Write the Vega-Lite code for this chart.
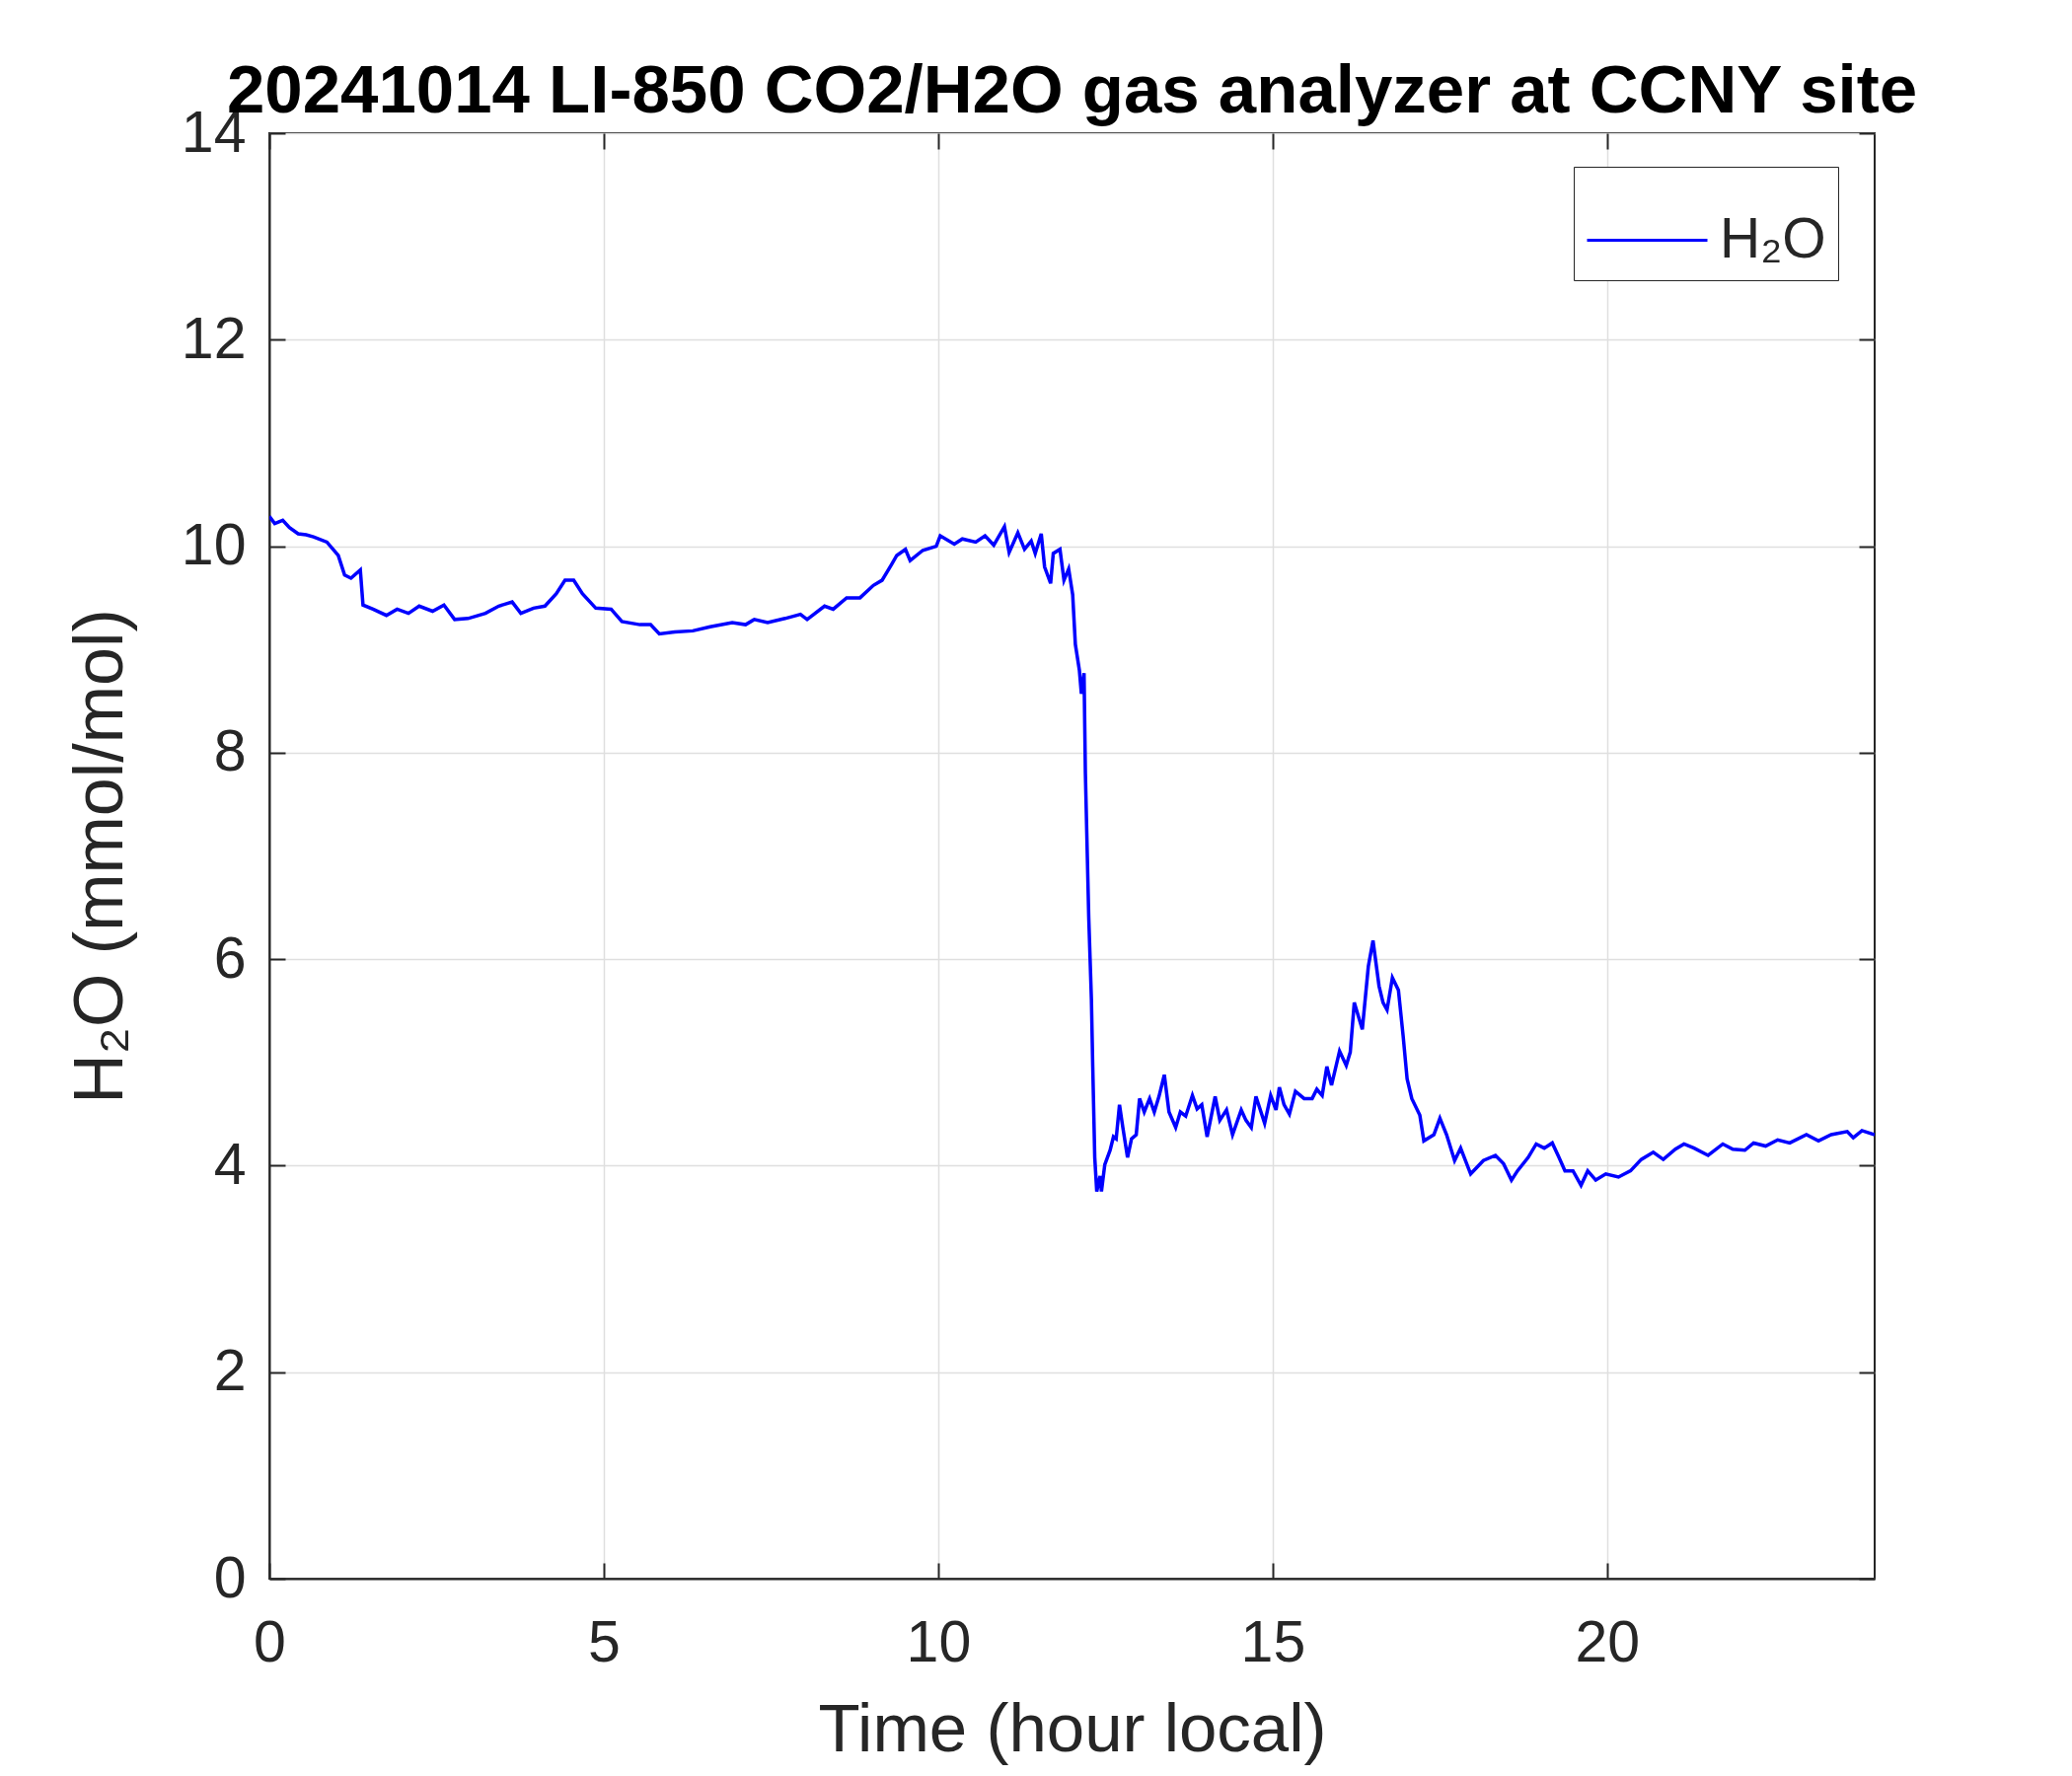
{
  "$schema": "https://vega.github.io/schema/vega-lite/v6.json",
  "width": 1627,
  "height": 1465,
  "autosize": {"type": "none"},
  "padding": {"left": 273, "top": 135, "right": 200, "bottom": 200},
  "background": "white",
  "config": {
    "font": "Liberation Sans",
    "view": {"stroke": "#262626", "strokeWidth": 2}
  },
  "title": {
    "text": "20241014 LI-850 CO2/H2O gas analyzer at CCNY site",
    "fontSize": 69,
    "fontWeight": "bold",
    "color": "black",
    "font": "Liberation Sans",
    "anchor": "middle",
    "frame": "group",
    "baseline": "alphabetic",
    "offset": 17,
    "dy": 94
  },
  "data": {
    "values": [
      {"hour": 0.00, "h2o": 10.29}, {"hour": 0.08, "h2o": 10.22}, {"hour": 0.20, "h2o": 10.25},
      {"hour": 0.30, "h2o": 10.18}, {"hour": 0.43, "h2o": 10.12}, {"hour": 0.55, "h2o": 10.11},
      {"hour": 0.66, "h2o": 10.09}, {"hour": 0.86, "h2o": 10.04}, {"hour": 1.03, "h2o": 9.91},
      {"hour": 1.125, "h2o": 9.72}, {"hour": 1.22, "h2o": 9.69}, {"hour": 1.36, "h2o": 9.77},
      {"hour": 1.40, "h2o": 9.43}, {"hour": 1.55, "h2o": 9.39}, {"hour": 1.75, "h2o": 9.33},
      {"hour": 1.91, "h2o": 9.39}, {"hour": 2.08, "h2o": 9.35}, {"hour": 2.24, "h2o": 9.42},
      {"hour": 2.44, "h2o": 9.37}, {"hour": 2.61, "h2o": 9.43}, {"hour": 2.77, "h2o": 9.29},
      {"hour": 2.97, "h2o": 9.30}, {"hour": 3.23, "h2o": 9.35}, {"hour": 3.43, "h2o": 9.42},
      {"hour": 3.63, "h2o": 9.46}, {"hour": 3.76, "h2o": 9.35}, {"hour": 3.95, "h2o": 9.40},
      {"hour": 4.12, "h2o": 9.42}, {"hour": 4.29, "h2o": 9.54}, {"hour": 4.42, "h2o": 9.67},
      {"hour": 4.55, "h2o": 9.67}, {"hour": 4.68, "h2o": 9.54}, {"hour": 4.88, "h2o": 9.40},
      {"hour": 5.11, "h2o": 9.39}, {"hour": 5.27, "h2o": 9.27}, {"hour": 5.54, "h2o": 9.24},
      {"hour": 5.70, "h2o": 9.24}, {"hour": 5.83, "h2o": 9.15}, {"hour": 6.06, "h2o": 9.17},
      {"hour": 6.33, "h2o": 9.18}, {"hour": 6.59, "h2o": 9.22}, {"hour": 6.92, "h2o": 9.26},
      {"hour": 7.12, "h2o": 9.24}, {"hour": 7.25, "h2o": 9.29}, {"hour": 7.45, "h2o": 9.26},
      {"hour": 7.71, "h2o": 9.30}, {"hour": 7.94, "h2o": 9.34}, {"hour": 8.04, "h2o": 9.29},
      {"hour": 8.30, "h2o": 9.42}, {"hour": 8.43, "h2o": 9.39}, {"hour": 8.63, "h2o": 9.50},
      {"hour": 8.83, "h2o": 9.50}, {"hour": 9.03, "h2o": 9.62}, {"hour": 9.16, "h2o": 9.67},
      {"hour": 9.30, "h2o": 9.82}, {"hour": 9.38, "h2o": 9.91}, {"hour": 9.51, "h2o": 9.97},
      {"hour": 9.58, "h2o": 9.86}, {"hour": 9.77, "h2o": 9.96}, {"hour": 9.97, "h2o": 10.00},
      {"hour": 10.03, "h2o": 10.10}, {"hour": 10.24, "h2o": 10.02}, {"hour": 10.36, "h2o": 10.07},
      {"hour": 10.56, "h2o": 10.04}, {"hour": 10.70, "h2o": 10.10}, {"hour": 10.83, "h2o": 10.01},
      {"hour": 10.99, "h2o": 10.19}, {"hour": 11.06, "h2o": 9.94}, {"hour": 11.19, "h2o": 10.13},
      {"hour": 11.29, "h2o": 9.97}, {"hour": 11.39, "h2o": 10.05}, {"hour": 11.45, "h2o": 9.93},
      {"hour": 11.54, "h2o": 10.12}, {"hour": 11.59, "h2o": 9.80}, {"hour": 11.68, "h2o": 9.64},
      {"hour": 11.72, "h2o": 9.93}, {"hour": 11.82, "h2o": 9.97}, {"hour": 11.88, "h2o": 9.67},
      {"hour": 11.95, "h2o": 9.78}, {"hour": 12.01, "h2o": 9.53}, {"hour": 12.05, "h2o": 9.05},
      {"hour": 12.11, "h2o": 8.80}, {"hour": 12.14, "h2o": 8.57}, {"hour": 12.18, "h2o": 8.77},
      {"hour": 12.20, "h2o": 7.80}, {"hour": 12.25, "h2o": 6.41}, {"hour": 12.29, "h2o": 5.61},
      {"hour": 12.31, "h2o": 4.96}, {"hour": 12.34, "h2o": 4.08}, {"hour": 12.37, "h2o": 3.75},
      {"hour": 12.42, "h2o": 3.90}, {"hour": 12.44, "h2o": 3.75}, {"hour": 12.49, "h2o": 4.01},
      {"hour": 12.57, "h2o": 4.15}, {"hour": 12.62, "h2o": 4.28}, {"hour": 12.66, "h2o": 4.26},
      {"hour": 12.71, "h2o": 4.59}, {"hour": 12.76, "h2o": 4.37}, {"hour": 12.83, "h2o": 4.08},
      {"hour": 12.89, "h2o": 4.26}, {"hour": 12.96, "h2o": 4.30}, {"hour": 13.01, "h2o": 4.65},
      {"hour": 13.08, "h2o": 4.52}, {"hour": 13.16, "h2o": 4.65}, {"hour": 13.23, "h2o": 4.52},
      {"hour": 13.30, "h2o": 4.67}, {"hour": 13.38, "h2o": 4.88}, {"hour": 13.45, "h2o": 4.52},
      {"hour": 13.55, "h2o": 4.37}, {"hour": 13.62, "h2o": 4.52}, {"hour": 13.70, "h2o": 4.48},
      {"hour": 13.80, "h2o": 4.68}, {"hour": 13.87, "h2o": 4.55}, {"hour": 13.94, "h2o": 4.59},
      {"hour": 14.02, "h2o": 4.28}, {"hour": 14.14, "h2o": 4.67}, {"hour": 14.21, "h2o": 4.44},
      {"hour": 14.31, "h2o": 4.54}, {"hour": 14.40, "h2o": 4.30}, {"hour": 14.53, "h2o": 4.54},
      {"hour": 14.60, "h2o": 4.44}, {"hour": 14.68, "h2o": 4.37}, {"hour": 14.75, "h2o": 4.67},
      {"hour": 14.88, "h2o": 4.41}, {"hour": 14.97, "h2o": 4.68}, {"hour": 15.05, "h2o": 4.54},
      {"hour": 15.10, "h2o": 4.76}, {"hour": 15.17, "h2o": 4.59}, {"hour": 15.25, "h2o": 4.50},
      {"hour": 15.34, "h2o": 4.72}, {"hour": 15.47, "h2o": 4.65}, {"hour": 15.59, "h2o": 4.65},
      {"hour": 15.66, "h2o": 4.74}, {"hour": 15.74, "h2o": 4.68}, {"hour": 15.81, "h2o": 4.96},
      {"hour": 15.88, "h2o": 4.78}, {"hour": 16.00, "h2o": 5.11}, {"hour": 16.10, "h2o": 4.97},
      {"hour": 16.16, "h2o": 5.10}, {"hour": 16.22, "h2o": 5.58}, {"hour": 16.34, "h2o": 5.32},
      {"hour": 16.43, "h2o": 5.93}, {"hour": 16.50, "h2o": 6.18}, {"hour": 16.59, "h2o": 5.74},
      {"hour": 16.65, "h2o": 5.58}, {"hour": 16.71, "h2o": 5.51}, {"hour": 16.79, "h2o": 5.82},
      {"hour": 16.88, "h2o": 5.70}, {"hour": 16.95, "h2o": 5.26}, {"hour": 17.01, "h2o": 4.84},
      {"hour": 17.08, "h2o": 4.65}, {"hour": 17.20, "h2o": 4.49}, {"hour": 17.26, "h2o": 4.24},
      {"hour": 17.41, "h2o": 4.30}, {"hour": 17.50, "h2o": 4.46}, {"hour": 17.60, "h2o": 4.30},
      {"hour": 17.72, "h2o": 4.05}, {"hour": 17.81, "h2o": 4.17}, {"hour": 17.96, "h2o": 3.92},
      {"hour": 18.15, "h2o": 4.05}, {"hour": 18.33, "h2o": 4.10}, {"hour": 18.45, "h2o": 4.02},
      {"hour": 18.57, "h2o": 3.86}, {"hour": 18.66, "h2o": 3.95}, {"hour": 18.82, "h2o": 4.08},
      {"hour": 18.94, "h2o": 4.21}, {"hour": 19.06, "h2o": 4.17}, {"hour": 19.18, "h2o": 4.22},
      {"hour": 19.28, "h2o": 4.08}, {"hour": 19.37, "h2o": 3.95}, {"hour": 19.49, "h2o": 3.95},
      {"hour": 19.61, "h2o": 3.81}, {"hour": 19.71, "h2o": 3.95}, {"hour": 19.83, "h2o": 3.86},
      {"hour": 19.98, "h2o": 3.92}, {"hour": 20.17, "h2o": 3.89}, {"hour": 20.35, "h2o": 3.95},
      {"hour": 20.51, "h2o": 4.06}, {"hour": 20.69, "h2o": 4.13}, {"hour": 20.84, "h2o": 4.06},
      {"hour": 21.02, "h2o": 4.16}, {"hour": 21.15, "h2o": 4.21}, {"hour": 21.30, "h2o": 4.17},
      {"hour": 21.51, "h2o": 4.10}, {"hour": 21.73, "h2o": 4.21}, {"hour": 21.88, "h2o": 4.16},
      {"hour": 22.06, "h2o": 4.15}, {"hour": 22.19, "h2o": 4.22}, {"hour": 22.37, "h2o": 4.19},
      {"hour": 22.55, "h2o": 4.25}, {"hour": 22.73, "h2o": 4.22}, {"hour": 22.98, "h2o": 4.30},
      {"hour": 23.16, "h2o": 4.24}, {"hour": 23.35, "h2o": 4.30}, {"hour": 23.59, "h2o": 4.33},
      {"hour": 23.68, "h2o": 4.27}, {"hour": 23.81, "h2o": 4.34}, {"hour": 24.00, "h2o": 4.30}
    ]
  },
  "layer": [
    {
      "mark": {"type": "line", "strokeWidth": 3.5, "clip": true},
      "encoding": {
        "x": {
          "field": "hour",
          "type": "quantitative",
          "scale": {"domain": [0, 24], "nice": false},
          "axis": {
            "orient": "bottom",
            "values": [0, 5, 10, 15, 20],
            "format": "d",
            "grid": true,
            "gridColor": "#dfdfdf",
            "gridWidth": 1.5,
            "domainColor": "#262626",
            "domainWidth": 2,
            "tickColor": "#262626",
            "tickWidth": 2,
            "tickSize": -16,
            "labelPadding": 52,
            "labelFlush": false,
            "labelFontSize": 59,
            "labelColor": "#262626",
            "labelFont": "Liberation Sans",
            "labelBaseline": "top",
            "title": "Time (hour local)",
            "titleFontSize": 69,
            "titleFontWeight": "normal",
            "titleColor": "#262626",
            "titleFont": "Liberation Sans",
            "titleBaseline": "alphabetic",
            "titleY": 174
          }
        },
        "y": {
          "field": "h2o",
          "type": "quantitative",
          "scale": {"domain": [0, 14], "nice": false},
          "axis": {
            "orient": "left",
            "values": [0, 2, 4, 6, 8, 10, 12, 14],
            "grid": true,
            "gridColor": "#dfdfdf",
            "gridWidth": 1.5,
            "domainColor": "#262626",
            "domainWidth": 2,
            "tickColor": "#262626",
            "tickWidth": 2,
            "tickSize": -16,
            "labelPadding": 40,
            "labelFlush": false,
            "labelFontSize": 59,
            "labelColor": "#262626",
            "labelFont": "Liberation Sans",
            "title": "H₂O (mmol/mol)",
            "titleFontSize": 70,
            "titleFontWeight": "normal",
            "titleColor": "#262626",
            "titleFont": "Liberation Sans",
            "titleBaseline": "alphabetic",
            "titleX": -150
          }
        },
        "color": {
          "datum": "H₂O",
          "scale": {"range": ["#0000ff"]},
          "legend": {
            "orient": "none",
            "legendX": 1322,
            "legendY": 34,
            "title": null,
            "symbolType": "stroke",
            "symbolSize": 14884,
            "symbolStrokeWidth": 3,
            "labelFontSize": 57,
            "labelColor": "#262626",
            "labelFont": "Liberation Sans",
            "strokeColor": "#262626",
            "fillColor": "white",
            "padding": 12,
            "labelOffset": 11
          }
        }
      }
    },
    {
      "mark": {"type": "line", "opacity": 0},
      "encoding": {
        "x": {
          "field": "hour",
          "type": "quantitative",
          "axis": {
            "orient": "top",
            "values": [0, 5, 10, 15, 20],
            "labels": false,
            "grid": false,
            "domain": false,
            "tickColor": "#262626",
            "tickWidth": 2,
            "tickSize": -16,
            "title": null
          }
        },
        "y": {
          "field": "h2o",
          "type": "quantitative",
          "axis": {
            "orient": "right",
            "values": [0, 2, 4, 6, 8, 10, 12, 14],
            "labels": false,
            "grid": false,
            "domain": false,
            "tickColor": "#262626",
            "tickWidth": 2,
            "tickSize": -16,
            "title": null
          }
        }
      }
    }
  ]
}
